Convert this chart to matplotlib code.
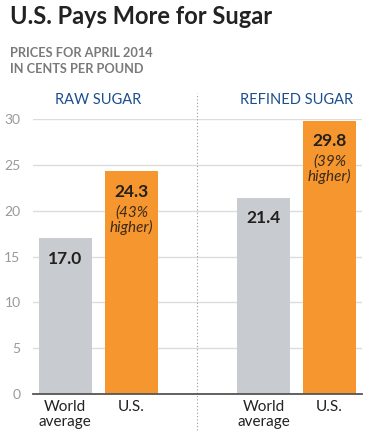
import matplotlib.pyplot as plt

plt.rcParams['font.family'] = ['Lato', 'DejaVu Sans']

groups = ["RAW SUGAR", "REFINED SUGAR"]
categories = ["World\naverage", "U.S.", "World\naverage", "U.S."]
positions = [0, 1, 3, 4]
prices = [17.0, 24.3, 21.4, 29.8]
notes = ["", "(43%\nhigher)", "", "(39%\nhigher)"]
yticks = [0, 5, 10, 15, 20, 25, 30]

gray = "#c8ccd0"
orange = "#f5962f"
colors = [gray, orange, gray, orange]

fig = plt.figure(figsize=(3.79, 4.43), dpi=100)
ax = fig.add_axes([33 / 379, 49 / 443, 329 / 379, 275 / 443])

ax.bar(positions, prices, width=0.8, color=colors, zorder=2)

ax.set_xlim(-0.49, 4.49)
ax.set_ylim(0, 30)
ax.set_yticks(yticks)
ax.set_yticklabels([str(t) for t in yticks], color="#999999", fontsize=10)
ax.set_xticks(positions)
ax.set_xticklabels(categories, fontsize=11, color="#222222", linespacing=1.15)
ax.tick_params(axis="both", length=0)
ax.tick_params(axis="y", pad=9)
ax.tick_params(axis="x", pad=4)
ax.grid(axis="y", color="#dcdcdc", linewidth=1, zorder=0)
for s in ["top", "right", "left"]:
    ax.spines[s].set_visible(False)
ax.spines["bottom"].set_color("#555555")
ax.spines["bottom"].set_linewidth(1.3)
ax.spines["bottom"].set_zorder(3)

# value labels inside bars
for x, v, n in zip(positions, prices, notes):
    ax.annotate(f"{v:.1f}", (x, v), xytext=(0, -9), textcoords="offset points",
                ha="center", va="top", fontsize=12.5, fontweight="bold", color="#231f1c")
    if n:
        ax.annotate(n, (x, v), xytext=(0, -24.5), textcoords="offset points",
                    ha="center", va="top", fontsize=11, style="italic",
                    color="#3d2a17", linespacing=1.0)

# divider between the two groups
ax.axvline(2, ymin=-0.13, ymax=1.095, color="#9a9a9a", linestyle=(0, (1, 2)),
           linewidth=0.8, clip_on=False)

# group headers
for xc, g in zip([0.5, 3.5], groups):
    ax.text(xc, 1.068, g, transform=ax.get_xaxis_transform(), ha="center",
            va="center", fontsize=10.5, color="#1b4e8e")

fig.text(10 / 379, 1 - 16 / 443, "U.S. Pays More for Sugar", fontsize=17,
         fontweight="bold", color="#222222", va="center", ha="left")
fig.text(10 / 379, 1 - 61 / 443, "PRICES FOR APRIL 2014\nIN CENTS PER POUND",
         fontsize=9.2, fontweight="bold", color="#7a7a7a", va="center", ha="left",
         linespacing=1.35)

fig.savefig("out.png", dpi=100)
